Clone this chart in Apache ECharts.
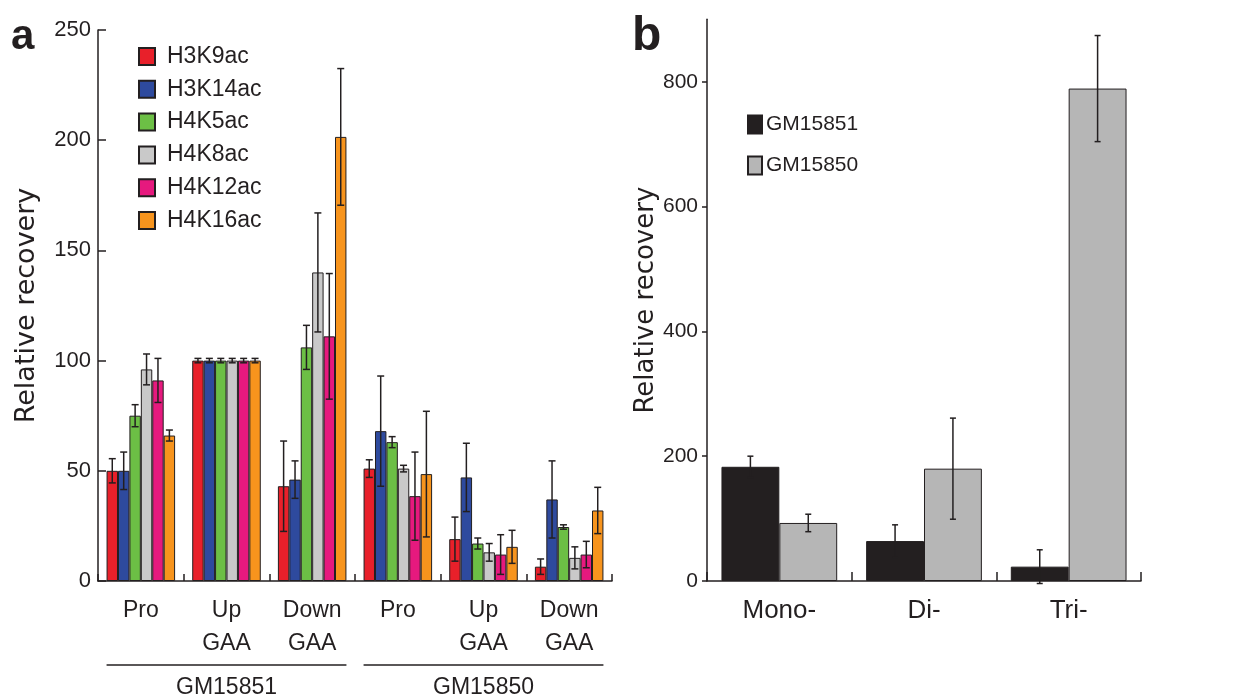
<!DOCTYPE html>
<html>
<head>
<meta charset="utf-8">
<script src="https://cdn.jsdelivr.net/npm/echarts@6/dist/echarts.min.js"></script>
<style>
  html, body { margin: 0; padding: 0; background: #fff; }
  #chart { width: 1250px; height: 699px; }
</style>
</head>
<body>
<div id="chart"></div>
<script>
// ---- Panel a: histone acetylation marks at FXN regions ----
const regionLabels = ['Pro', 'Up\nGAA', 'Down\nGAA', 'Pro', 'Up\nGAA', 'Down\nGAA'];
const cellLines = ['GM15851', 'GM15850'];
const markNames = ['H3K9ac', 'H3K14ac', 'H4K5ac', 'H4K8ac', 'H4K12ac', 'H4K16ac'];
const markColors = ['#e8202a', '#2e4a9e', '#6cbf45', '#c9c9c9', '#e6197e', '#f7941d'];

const h3k9ac  = [50, 100, 43, 51, 19, 6.5];
const h3k14ac = [50, 100, 46, 68, 47, 37];
const h4k5ac  = [75, 100, 106, 63, 17, 24.5];
const h4k8ac  = [96, 100, 140, 51, 13, 10.5];
const h4k12ac = [91, 100, 111, 38.5, 12, 12];
const h4k16ac = [66, 100, 201.5, 48.5, 15.5, 32];

const h3k9acErr  = [5.5, 1, 20.5, 4, 10, 3.5];
const h3k14acErr = [8.5, 1, 8.5, 25, 15.5, 17.5];
const h4k5acErr  = [5, 1, 10, 2.5, 2.5, 1];
const h4k8acErr  = [7, 1, 27, 1.5, 4, 5];
const h4k12acErr = [10, 1, 28.5, 20, 9, 6];
const h4k16acErr = [2.5, 1, 31, 28.5, 7.5, 10.5];

const yTicksA = [0, 50, 100, 150, 200, 250];

// ---- Panel b: H3K9 methylation states ----
const methylLabels = ['Mono-', 'Di-', 'Tri-'];
const methylSeries = ['GM15851', 'GM15850'];
const methylColors = ['#231f20', '#b6b6b6'];
const gm15851 = [183, 64, 23];
const gm15850 = [93, 180, 789];
const gm15851Err = [17, 26, 27];
const gm15850Err = [14, 81, 85];
const yTicksB = [0, 200, 400, 600, 800];

const INK = '#231f20';
const SANS = "'Liberation Sans',Arial,Helvetica,sans-serif";
const WIDE = "'DejaVu Sans','Liberation Sans',sans-serif";

const markValues = [h3k9ac, h3k14ac, h4k5ac, h4k8ac, h4k12ac, h4k16ac];
const markErrors = [h3k9acErr, h3k14acErr, h4k5acErr, h4k8acErr, h4k12acErr, h4k16acErr];
const methylValues = [gm15851, gm15850];
const methylErrors = [gm15851Err, gm15850Err];

const CAT_GAP = 0.2; // barCategoryGap as a fraction

// error-bar rows: [categoryIndex, seriesIndex, value, error]
function errorRows(values, errors) {
  const rows = [];
  values.forEach((arr, s) => arr.forEach((v, c) => rows.push([c, s, v, errors[s][c]])));
  return rows;
}

function errorBarRenderer(nSeries, capHalf, lineWidth) {
  return function (params, api) {
    const c = api.value(0), s = api.value(1), v = api.value(2), e = api.value(3);
    const band = api.size([1, 0])[0];
    const barW = band * (1 - CAT_GAP) / nSeries;
    const cx = api.coord([c, v])[0] - band * (1 - CAT_GAP) / 2 + (s + 0.5) * barW;
    const yt = api.coord([c, v + e])[1];
    const yb = api.coord([c, v - e])[1];
    const style = { stroke: INK, lineWidth: lineWidth };
    return {
      type: 'group',
      children: [
        { type: 'line', shape: { x1: cx, y1: yt, x2: cx, y2: yb }, style: style },
        { type: 'line', shape: { x1: cx - capHalf, y1: yt, x2: cx + capHalf, y2: yt }, style: style },
        { type: 'line', shape: { x1: cx - capHalf, y1: yb, x2: cx + capHalf, y2: yb }, style: style }
      ]
    };
  };
}

const chart = echarts.init(document.getElementById('chart'), null, { renderer: 'canvas' });

const seriesA = markNames.map((name, i) => ({
  name: name,
  type: 'bar',
  xAxisIndex: 0,
  yAxisIndex: 0,
  data: markValues[i],
  barGap: '0%',
  barCategoryGap: (CAT_GAP * 100) + '%',
  itemStyle: { color: markColors[i], borderColor: INK, borderWidth: 1 },
  emphasis: { disabled: true },
  z: 2
}));

const seriesB = methylSeries.map((name, i) => ({
  name: name,
  type: 'bar',
  xAxisIndex: 1,
  yAxisIndex: 1,
  data: methylValues[i],
  barGap: '0%',
  barCategoryGap: (CAT_GAP * 100) + '%',
  itemStyle: { color: methylColors[i], borderColor: INK, borderWidth: 1 },
  emphasis: { disabled: true },
  z: 2
}));

const option = {
  backgroundColor: '#ffffff',
  animation: false,
  textStyle: { fontFamily: SANS, color: INK },
  grid: [
    { left: 98, top: 30, width: 514, height: 551, containLabel: false },
    { left: 707, top: 19.3, width: 434, height: 561.7, containLabel: false }
  ],
  legend: [
    {
      data: markNames,
      orient: 'vertical',
      left: 133,
      top: 40,
      icon: 'rect',
      itemWidth: 16,
      itemHeight: 17,
      itemGap: 9.8,
      textStyle: { fontFamily: SANS, fontSize: 23, color: INK, padding: [0, 0, 0, 7] },
      selectedMode: false
    },
    {
      data: methylSeries,
      orient: 'vertical',
      left: 742,
      top: 109,
      icon: 'rect',
      itemWidth: 14,
      itemHeight: 18,
      itemGap: 20,
      textStyle: { fontFamily: SANS, fontSize: 21, color: INK, padding: [0, 0, 0, -1] },
      selectedMode: false
    }
  ],
  xAxis: [
    {
      type: 'category',
      gridIndex: 0,
      data: regionLabels,
      axisLine: { lineStyle: { color: INK, width: 1.5 } },
      axisTick: { show: true, inside: true, length: 7, lineStyle: { color: INK, width: 1.5 }, interval: 0 },
      axisLabel: {
        interval: 0, margin: 13, fontFamily: SANS, fontSize: 23, lineHeight: 33, color: INK
      }
    },
    {
      type: 'category',
      gridIndex: 1,
      data: methylLabels,
      axisLine: { lineStyle: { color: INK, width: 1.5 } },
      axisTick: { show: true, inside: true, length: 9, lineStyle: { color: INK, width: 1.5 }, interval: 0 },
      axisLabel: { interval: 0, margin: 15, fontFamily: SANS, fontSize: 26, lineHeight: 30, color: INK }
    }
  ],
  yAxis: [
    {
      type: 'value',
      gridIndex: 0,
      min: yTicksA[0],
      max: yTicksA[yTicksA.length - 1],
      interval: 50,
      name: 'Relative recovery',
      nameLocation: 'middle',
      nameGap: 58,
      nameTextStyle: { fontFamily: WIDE, fontSize: 27, color: INK },
      axisLine: { show: true, lineStyle: { color: INK, width: 1.5 } },
      axisTick: { show: true, inside: true, length: 8, lineStyle: { color: INK, width: 1.5 } },
      axisLabel: { margin: 7, fontFamily: SANS, fontSize: 22, color: INK },
      splitLine: { show: false }
    },
    {
      type: 'value',
      gridIndex: 1,
      min: 0,
      max: 900,
      interval: 200,
      name: 'Relative recovery',
      nameLocation: 'middle',
      nameGap: 44,
      nameTextStyle: { fontFamily: WIDE, fontSize: 26, color: INK },
      axisLine: { show: true, lineStyle: { color: INK, width: 1.5 } },
      axisTick: { show: true, inside: false, length: 5, customValues: yTicksB, lineStyle: { color: INK, width: 1.5 } },
      axisLabel: { margin: 9, fontFamily: SANS, fontSize: 21, color: INK, customValues: yTicksB },
      splitLine: { show: false }
    }
  ],
  series: seriesA.concat(seriesB, [
    {
      type: 'custom',
      xAxisIndex: 0,
      yAxisIndex: 0,
      renderItem: errorBarRenderer(markNames.length, 3.5, 1.5),
      encode: { x: 0, y: 2 },
      data: errorRows(markValues, markErrors),
      silent: true,
      z: 5
    },
    {
      type: 'custom',
      xAxisIndex: 1,
      yAxisIndex: 1,
      renderItem: errorBarRenderer(methylSeries.length, 3, 1.5),
      encode: { x: 0, y: 2 },
      data: errorRows(methylValues, methylErrors),
      silent: true,
      z: 5
    }
  ])
};

chart.setOption(option);

// Panel letters and the cell-line brackets under panel a
const c0 = chart.convertToPixel({ xAxisIndex: 0 }, 0);
const c1 = chart.convertToPixel({ xAxisIndex: 0 }, 1);
const band = c1 - c0;
const half = band * (1 - CAT_GAP) / 2;
const groupSpans = [[0, 2], [3, 5]];
const bracketY = 665;
const graphics = [];
groupSpans.forEach((span, g) => {
  const xa = chart.convertToPixel({ xAxisIndex: 0 }, span[0]) - half;
  const xb = chart.convertToPixel({ xAxisIndex: 0 }, span[1]) + half;
  graphics.push({
    type: 'line',
    shape: { x1: xa, y1: bracketY, x2: xb, y2: bracketY },
    style: { stroke: INK, lineWidth: 1.5 },
    silent: true
  });
  graphics.push({
    type: 'text',
    x: (xa + xb) / 2,
    y: 688,
    style: { text: cellLines[g], fontFamily: SANS, fontSize: 23, fill: INK, align: 'center', verticalAlign: 'middle' },
    silent: true
  });
});
graphics.push({
  type: 'text', x: 11, y: 37,
  style: { text: 'a', fontFamily: SANS, fontWeight: 'bold', fontSize: 42, fill: INK, align: 'left', verticalAlign: 'middle' },
  silent: true
});
graphics.push({
  type: 'text', x: 632, y: 37,
  style: { text: 'b', fontFamily: SANS, fontWeight: 'bold', fontSize: 48, fill: INK, align: 'left', verticalAlign: 'middle' },
  silent: true
});
chart.setOption({ graphic: graphics });
</script>
</body>
</html>
